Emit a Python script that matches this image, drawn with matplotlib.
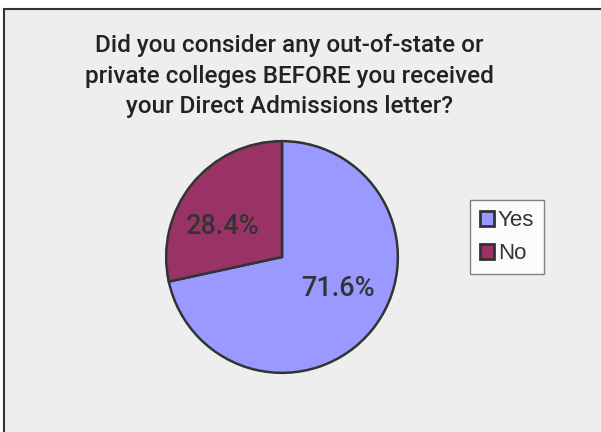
import matplotlib
matplotlib.use("Agg")
import matplotlib.pyplot as plt
from matplotlib.patches import Rectangle

labels = ["Yes", "No"]
shares = [71.6, 28.4]
colors = ["#9999FF", "#993366"]
title = ("Did you consider any out-of-state or\n"
         "private colleges BEFORE you received\n"
         "your Direct Admissions letter?")

plt.rcParams["font.family"] = ["Roboto", "DejaVu Sans"]

W, H = 601, 432
fig = plt.figure(figsize=(W / 100, H / 100), dpi=100)
fig.patch.set_facecolor("white")

# chart area panel
fig.patches.append(Rectangle((4 / W, -0.05), 1.0, 1.05 - 9 / H, transform=fig.transFigure,
                             facecolor="#EEEEEE", edgecolor="#333333", linewidth=1.5,
                             zorder=0))

cx, cy, r = 282, 257, 117
ax = fig.add_axes([(cx - r) / W, 1 - (cy + r) / H, 2 * r / W, 2 * r / H])
ax.set_zorder(2)
ax.set_facecolor("none")
wedges, _ = ax.pie(shares, colors=colors, startangle=90, counterclock=False,
                   wedgeprops=dict(edgecolor="#333333", linewidth=1.8))
ax.set_aspect("equal")
ax.set_xlim(-1.01, 1.01)
ax.set_ylim(-1.01, 1.01)

# value labels
label_pos = [(338, 289), (223, 227)]
for (px, py), v in zip(label_pos, shares):
    fig.text(px / W, 1 - py / H, f"{v:.1f}%", ha="center", va="center",
             fontsize=19.5, fontweight="medium", color="#333333", zorder=3)

fig.text(289 / W, 1 - 76 / H, title, ha="center", va="center", fontsize=17.5,
         fontweight="medium", color="#222222", linespacing=1.42)

leg = fig.legend(wedges, labels, loc="upper left",
                 bbox_to_anchor=(470 / W, 1 - 200 / H),
                 frameon=True, fancybox=False,
                 prop={"family": ["Liberation Sans", "DejaVu Sans"], "size": 16},
                 handlelength=0.65, handleheight=0.65, handletextpad=0.15,
                 borderpad=0.45, labelspacing=0.55, borderaxespad=0)
leg.get_frame().set_edgecolor("#666666")
leg.get_frame().set_facecolor("white")
leg.get_frame().set_linewidth(1.0)
for t in leg.get_texts():
    t.set_color("#333333")
for h in leg.legend_handles:
    h.set_linewidth(2.0)
    h.set_edgecolor("#333333")

fig.savefig("out.png", dpi=100, facecolor=fig.get_facecolor())
